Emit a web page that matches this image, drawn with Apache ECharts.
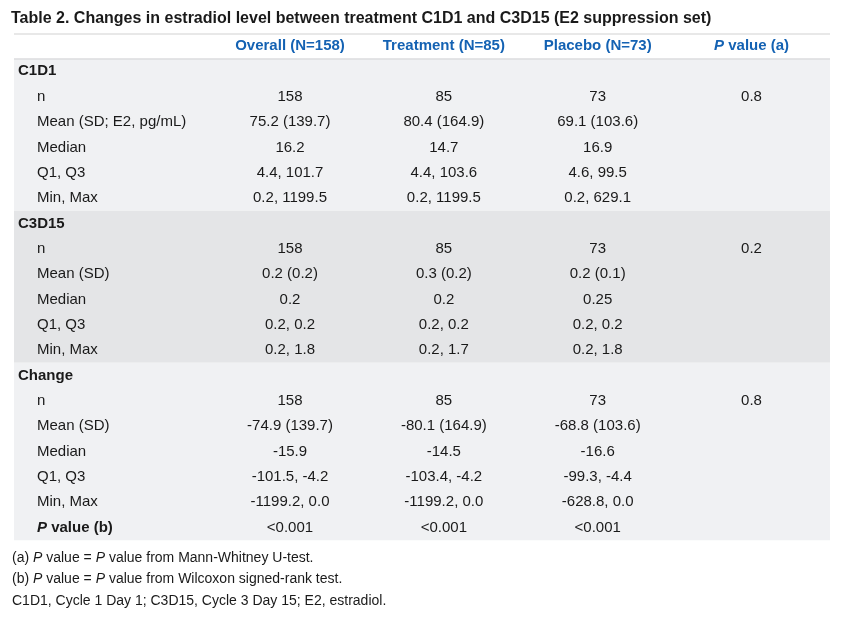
<!DOCTYPE html>
<html><head><meta charset="utf-8">
<script src="https://cdn.jsdelivr.net/npm/echarts@6/dist/echarts.min.js"></script>
<style>html,body{margin:0;padding:0;background:#fff}#c{width:845px;height:617px}</style>
</head><body><div id="c"></div>
<script>
var titleText = 'Table 2. Changes in estradiol level between treatment C1D1 and C3D15 (E2 suppression set)';
var headers = ['Overall (N=158)', 'Treatment (N=85)', 'Placebo (N=73)', '{hi|P} value (a)'];
var rowLabels = ['C1D1','n','Mean (SD; E2, pg/mL)','Median','Q1, Q3','Min, Max',
  'C3D15','n','Mean (SD)','Median','Q1, Q3','Min, Max',
  'Change','n','Mean (SD)','Median','Q1, Q3','Min, Max','{bi|P} value (b)'];
var rowIsSection = [1,0,0,0,0,0, 1,0,0,0,0,0, 1,0,0,0,0,0, 2];
var overall = ['','158','75.2 (139.7)','16.2','4.4, 101.7','0.2, 1199.5',
  '','158','0.2 (0.2)','0.2','0.2, 0.2','0.2, 1.8',
  '','158','-74.9 (139.7)','-15.9','-101.5, -4.2','-1199.2, 0.0','<0.001'];
var treatment = ['','85','80.4 (164.9)','14.7','4.4, 103.6','0.2, 1199.5',
  '','85','0.3 (0.2)','0.2','0.2, 0.2','0.2, 1.7',
  '','85','-80.1 (164.9)','-14.5','-103.4, -4.2','-1199.2, 0.0','<0.001'];
var placebo = ['','73','69.1 (103.6)','16.9','4.6, 99.5','0.2, 629.1',
  '','73','0.2 (0.1)','0.25','0.2, 0.2','0.2, 1.8',
  '','73','-68.8 (103.6)','-16.6','-99.3, -4.4','-628.8, 0.0','<0.001'];
var pValues = ['','0.8','','','','',
  '','0.2','','','','',
  '','0.8','','','','',''];
var footnotes = [
  '(a) {i|P} value = {i|P} value from Mann-Whitney U-test.',
  '(b) {i|P} value = {i|P} value from Wilcoxon signed-rank test.',
  'C1D1, Cycle 1 Day 1; C3D15, Cycle 3 Day 15; E2, estradiol.'
];
// section row spans (row indices, header = 0)
var sections = [[1,6],[7,12],[13,19]];
var sectionColors = ['#f0f1f3','#e4e5e7','#f0f1f3'];

var XMIN = -0.794, XMAX = 4.51;
var FONT = 'Liberation Sans, Arial, sans-serif';
var TXT = '#1a1a1a';
var BLUE = '#1462b3';

var cols = [overall, treatment, placebo, pValues];
var cellData = [];
cols.forEach(function (arr, c) {
  arr.forEach(function (v, r) {
    if (v !== '') cellData.push({ value: [c + 1, r + 1, v] });
  });
});
var headerData = headers.map(function (h, c) { return { value: [c + 1, 0, h] }; });
var labelData = rowLabels.map(function (l, r) {
  var sec = rowIsSection[r];
  return {
    value: [XMIN, r + 1, l],
    label: { distance: sec === 1 ? 4 : 23, fontWeight: sec ? 'bold' : 'normal' }
  };
});

var titles = [{
  text: titleText, left: 11, top: 11, padding: 0,
  textStyle: { fontFamily: FONT, fontSize: 16, fontWeight: 'bold', color: TXT }
}];
footnotes.forEach(function (f, i) {
  titles.push({
    text: f, left: 12, top: 551 + i * 21.5, padding: 0,
    textStyle: { fontFamily: FONT, fontSize: 14, fontWeight: 'normal', color: TXT,
      rich: { i: { fontFamily: FONT, fontSize: 14, fontStyle: 'italic', color: TXT } } }
  });
});

var bgAreas = sections.map(function (s, i) {
  return [
    { xAxis: XMIN, yAxis: s[0] - 0.5, itemStyle: { color: sectionColors[i], opacity: 1 } },
    { xAxis: XMAX, yAxis: s[1] + 0.5 }
  ];
});

var chart = echarts.init(document.getElementById('c'), null, { renderer: 'canvas' });
chart.setOption({
  animation: false,
  backgroundColor: '#ffffff',
  title: titles,
  grid: { left: 14, right: 15, top: 33.3, height: 507 },
  xAxis: { type: 'value', min: XMIN, max: XMAX, show: false },
  yAxis: { type: 'value', inverse: true, min: -0.5, max: 19.5, show: false },
  series: [
    {
      type: 'scatter', name: 'bg', data: [], silent: true, z: 1,
      markArea: { silent: true, data: bgAreas },
      markLine: {
        silent: true, symbol: 'none', label: { show: false },
        data: [
          { yAxis: -0.47, lineStyle: { color: '#e0e0e0', width: 1.5, type: 'solid' } },
          { yAxis: 0.52, lineStyle: { color: '#dcdddf', width: 1.5, type: 'solid' } },
          { yAxis: 19.58, lineStyle: { color: '#d9d9d9', width: 2, type: 'solid' } }
        ]
      }
    },
    {
      type: 'scatter', name: 'header', symbolSize: 0, data: headerData, z: 5, silent: true,
      itemStyle: { opacity: 1 },
      label: {
        show: true, position: 'inside', fontFamily: FONT, fontSize: 15, fontWeight: 'bold', color: BLUE,
        formatter: function (p) { return p.value[2]; },
        rich: { hi: { fontFamily: FONT, fontSize: 15, fontWeight: 'bold', fontStyle: 'italic', color: BLUE } }
      }
    },
    {
      type: 'scatter', name: 'rowLabels', symbolSize: 0, data: labelData, z: 5, silent: true,
      itemStyle: { opacity: 1 },
      label: {
        show: true, position: 'right', fontFamily: FONT, fontSize: 15, color: TXT,
        formatter: function (p) { return p.value[2]; },
        rich: { bi: { fontFamily: FONT, fontSize: 15, fontWeight: 'bold', fontStyle: 'italic', color: TXT } }
      }
    },
    {
      type: 'scatter', name: 'cells', symbolSize: 0, data: cellData, z: 5, silent: true,
      itemStyle: { opacity: 1 },
      label: {
        show: true, position: 'inside', fontFamily: FONT, fontSize: 15, color: TXT,
        formatter: function (p) { return p.value[2]; }
      }
    }
  ]
});
</script></body></html>
